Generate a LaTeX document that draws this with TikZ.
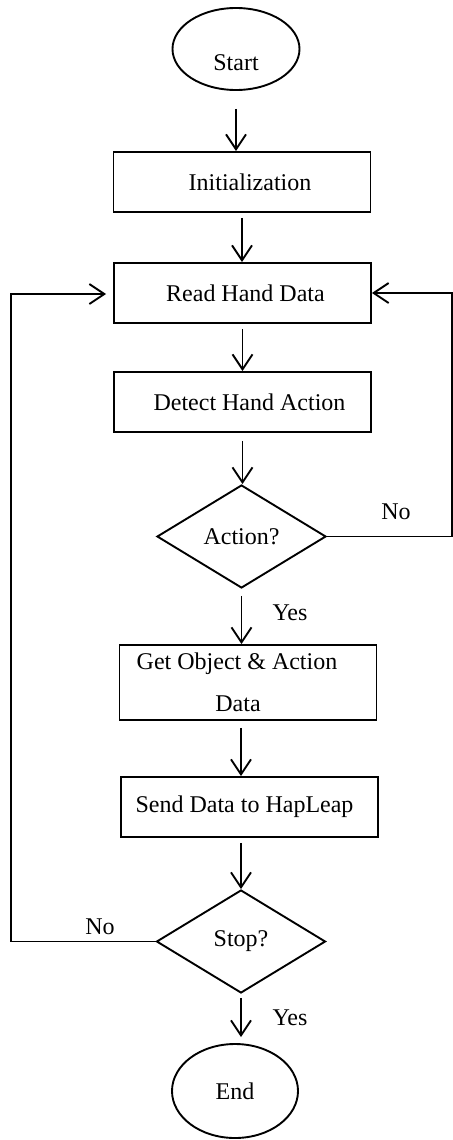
\documentclass[tikz,border=0pt]{standalone}
\usepackage{fontspec}
\setmainfont{Liberation Serif}
\usetikzlibrary{shapes.geometric,arrows.meta}

\begin{document}
\begin{tikzpicture}[x=0.5pt,y=-0.5pt,line width=0.95pt,
		font=\fontsize{12}{14}\selectfont,
		box/.style={draw,rectangle,inner sep=0pt,minimum width=128.5pt,minimum height=30pt},
		oval/.style={draw,ellipse,inner sep=0pt,minimum width=63.5pt,minimum height=41pt},
		choice/.style={draw,diamond,inner sep=0pt,minimum width=84.5pt,minimum height=51.5pt},
		arr/.style={-{Straight Barb[length=7.5pt,width=10pt,line width=0.95pt]}}]
		\useasboundingbox (0,0) rectangle (453,1140);
		\node [oval](start)at (236,49) {\raisebox{0pt}[21pt][0pt]{Start}};
		\node [box](init)at (242,182) {\hspace*{8pt}Initialization};
		\node [box](read)at (242.5,293) {\hspace*{3pt}Read Hand Data};
		\node [box](detect)at (242.5,402) {\hspace*{7pt}Detect Hand Action};
		\node [choice](action)at (241.5,536.5) {Action?};
		\node [box, minimum height=37.5pt, align=center](get)at (248,682.5) {Get Object \& Action\hspace*{11pt}\\[7pt]Data\hspace*{10pt}};
		\node [box](send)at (249.5,807) {Send Data to HapLeap\hspace*{5pt}};
		\node [choice](stop)at (241,941.5) {Stop?};
		\node [oval, minimum width=63pt, minimum height=47pt](end)at (235,1091) {End};
		% straight down
		\draw [arr, shorten <=9pt](start.south)--(start.south |- init.north);
		\draw [arr, shorten <=2.5pt](init.south)--(init.south |- read.north);
		\draw [arr, shorten <=2.5pt](read.south)--(read.south |- detect.north);
		\draw [arr, shorten <=4pt](detect.south)--(detect.south |- action.north);
		\draw [arr, shorten <=3.5pt](action.south)--(action.south |- get.north);
		\draw [arr, shorten <=3.5pt](get.south -| stop)--(send.north -| stop);
		\draw [arr, shorten <=2.5pt](send.south -| stop)--(stop.north);
		\draw [arr, shorten <=2pt, shorten >=3pt](stop.south)--(stop.south |- end.north);
		\node (yes1)at (290,613) {Yes};
		\node (yes2)at (290,1018) {Yes};
		% loops back
		\coordinate (l1)at (11,941.5);
		\coordinate (l2)at (11,294);
		\draw [arr, shorten >=3.5pt](stop.west)--(l1)--(l2)--(l2 -| read.west);
		\coordinate (r1)at (452,536.5);
		\coordinate (r2)at (452,293);
		\draw [arr](action.east)--(r1)--(r2)--(read.east);
		\node (no1)at (100,927) {No};
		\node (no2)at (396,512) {No};
	\end{tikzpicture}
\end{document}
